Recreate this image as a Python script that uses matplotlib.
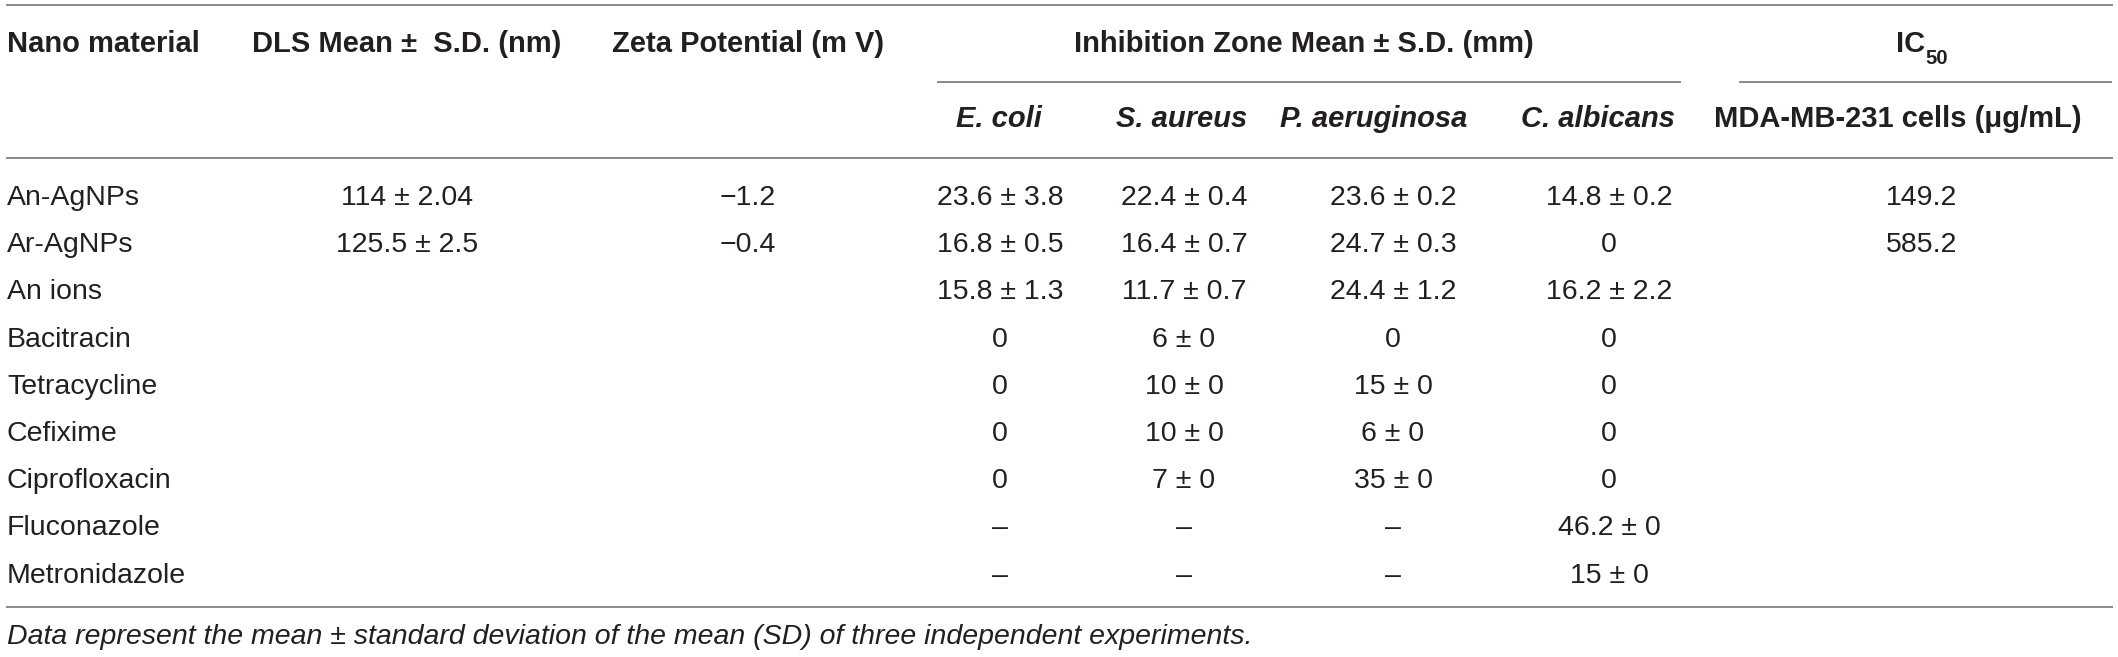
import matplotlib.pyplot as plt

plt.rcParams['font.family'] = ['Liberation Sans', 'DejaVu Sans']

# table contents
materials = ['An-AgNPs', 'Ar-AgNPs', 'An ions', 'Bacitracin', 'Tetracycline',
             'Cefixime', 'Ciprofloxacin', 'Fluconazole', 'Metronidazole']
dls = ['114 \u00b1 2.04', '125.5 \u00b1 2.5', '', '', '', '', '', '', '']
zeta = ['\u22121.2', '\u22120.4', '', '', '', '', '', '', '']
e_coli = ['23.6 \u00b1 3.8', '16.8 \u00b1 0.5', '15.8 \u00b1 1.3', '0', '0', '0', '0',
          '\u2013', '\u2013']
s_aureus = ['22.4 \u00b1 0.4', '16.4 \u00b1 0.7', '11.7 \u00b1 0.7', '6 \u00b1 0',
            '10 \u00b1 0', '10 \u00b1 0', '7 \u00b1 0', '\u2013', '\u2013']
p_aeruginosa = ['23.6 \u00b1 0.2', '24.7 \u00b1 0.3', '24.4 \u00b1 1.2', '0',
                '15 \u00b1 0', '6 \u00b1 0', '35 \u00b1 0', '\u2013', '\u2013']
c_albicans = ['14.8 \u00b1 0.2', '0', '16.2 \u00b1 2.2', '0', '0', '0', '0',
              '46.2 \u00b1 0', '15 \u00b1 0']
ic50 = ['149.2', '585.2', '', '', '', '', '', '', '']

footnote = ('Data represent the mean \u00b1 standard deviation of the mean (SD) '
            'of three independent experiments.')

W, H = 2118, 657
fig = plt.figure(figsize=(W / 100, H / 100), dpi=100)
ax = fig.add_axes([0, 0, 1, 1])
ax.set_xlim(0, W)
ax.set_ylim(H, 0)
ax.axis('off')

txt = '#231f20'
rule = '#8a8a8a'
fs = 20.5
fs_h = 21
base = 10  # baseline offset below visual centre

# rules
for yy in (5, 158, 607):
    ax.plot([6, 2113], [yy, yy], color=rule, lw=1.4, solid_capstyle='butt')
ax.plot([937, 1681], [82, 82], color=rule, lw=1.4, solid_capstyle='butt')
ax.plot([1739, 2112], [82, 82], color=rule, lw=1.4, solid_capstyle='butt')

# header row 1
y1 = 42 + base
ax.text(7, y1, 'Nano material', ha='left', va='baseline', fontsize=fs_h,
        fontweight='bold', color=txt)
ax.text(407, y1, 'DLS Mean \u00b1  S.D. (nm)', ha='center', va='baseline',
        fontsize=fs_h, fontweight='bold', color=txt)
ax.text(748, y1, 'Zeta Potential (m V)', ha='center', va='baseline',
        fontsize=fs_h, fontweight='bold', color=txt)
ax.text(1304, y1, 'Inhibition Zone Mean \u00b1 S.D. (mm)', ha='center',
        va='baseline', fontsize=fs_h, fontweight='bold', color=txt)
ic = ax.text(1925, y1, 'IC', ha='right', va='baseline', fontsize=fs_h,
             fontweight='bold', color=txt)
ax.annotate('50', xy=(1, 0), xycoords=ic, xytext=(0.5, -4),
            textcoords='offset points', ha='left', va='baseline',
            fontsize=fs_h * 0.7, fontweight='bold', color=txt)

# header row 2
y2 = 117 + base
for xx, lab in zip([999, 1182, 1374, 1598],
                   ['E. coli', 'S. aureus', 'P. aeruginosa', 'C. albicans']):
    ax.text(xx, y2, lab, ha='center', va='baseline', fontsize=fs_h,
            fontweight='bold', fontstyle='italic', color=txt)
ax.text(1898, y2, 'MDA-MB-231 cells (\u03bcg/mL)', ha='center', va='baseline',
        fontsize=fs_h, fontweight='bold', color=txt)

# body
cols = [dls, zeta, e_coli, s_aureus, p_aeruginosa, c_albicans, ic50]
col_x = [407, 748, 1000, 1184, 1393, 1609, 1922]
for i, name in enumerate(materials):
    yy = 195 + 47.2 * i + base
    ax.text(7, yy, name, ha='left', va='baseline', fontsize=fs, color=txt)
    for xx, col in zip(col_x, cols):
        if col[i]:
            ax.text(xx, yy, col[i], ha='center', va='baseline', fontsize=fs,
                    color=txt)

ax.text(7, 634 + base, footnote, ha='left', va='baseline', fontsize=fs,
        fontstyle='italic', color=txt)

fig.savefig('out.png', dpi=100)
